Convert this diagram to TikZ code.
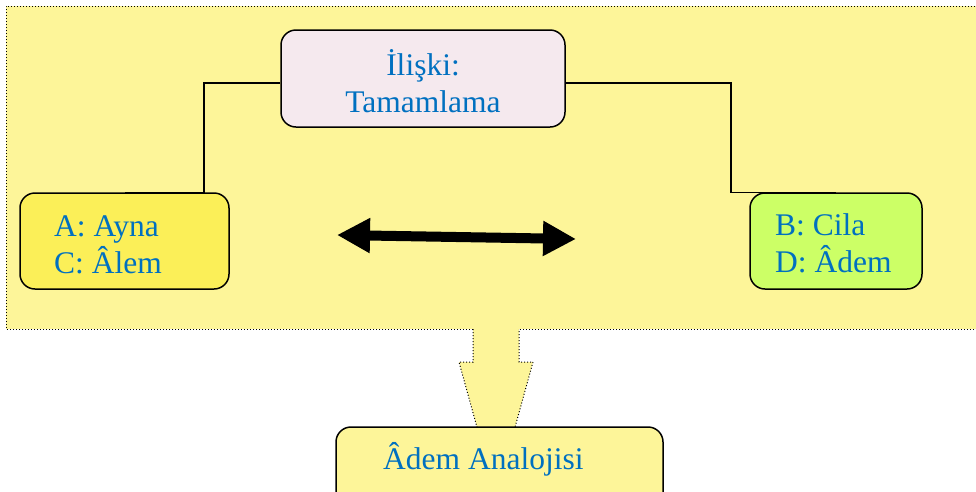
\documentclass[tikz,border=0pt]{standalone}
\usepackage{fontspec}
\setmainfont{Liberation Serif}
\usetikzlibrary{arrows.meta}
\definecolor{panelfill}{RGB}{253,245,153}
\definecolor{relfill}{RGB}{245,233,238}
\definecolor{leftfill}{RGB}{251,239,88}
\definecolor{rightfill}{RGB}{204,255,102}
\definecolor{labelblue}{RGB}{0,112,192}
\tikzset{
  box/.style={draw=black, line width=1.5pt, rounded corners=15pt, inner sep=0pt},
  dots/.style={draw=black, line width=1pt, dash pattern=on 1pt off 2pt},
  txt/.style={text=labelblue, font=\fontsize{31.5}{37}\selectfont, inner sep=0pt},
  link/.style={draw=black, line width=1.3pt},
}
\begin{document}
\begin{tikzpicture}[x=1pt,y=-1pt]
\useasboundingbox (0,0) rectangle (976,491);
\clip (0,0) rectangle (976,491);

% background panel
\fill[panelfill] (6,6) rectangle (990,329);
\draw[dots] (990,6) -- (6,6) -- (6,329) -- (990,329);

% block arrow below the panel
\fill[panelfill] (473,328) -- (473,362) -- (459,362) -- (496,496) -- (533,362) -- (519,362) -- (519,328) -- cycle;
\draw[dots] (473,329) -- (473,362) -- (459,362) -- (496,496) -- (533,362) -- (519,362) -- (519,329);

% boxes
\node[box, fill=relfill, minimum width=284pt, minimum height=97pt] (rel) at (423,78.5) {};
\node[box, fill=leftfill, minimum width=209pt, minimum height=96pt] (lbox) at (124.5,241) {};
\node[box, fill=rightfill, minimum width=172pt, minimum height=96pt] (rbox) at (836,241) {};

% elbow connectors
\draw[link] ([yshift=-4.5pt]rel.west) -- (204,83) |- (lbox.north);
\draw[link] ([yshift=-4.5pt]rel.east) -- (731,83) |- (rbox.north);

% labels
\node[txt, align=center] (reltxt) at (423,81) {İlişki:\\Tamamlama};
\node[txt, anchor=base west] (la) at (54,236) {A: Ayna};
\node[txt, anchor=base west] (lc) at (54,273) {C: Âlem};
\node[txt, anchor=base west] (rb) at (775,235) {B: Cila};
\node[txt, anchor=base west] (rd) at (775,272) {D: Âdem};

% double-headed arrow
\coordinate (al) at (337,235);
\coordinate (ar) at (576,239);
\draw[line width=10pt, {Triangle[length=33pt,width=33pt]}-{Triangle[length=33pt,width=33pt]}] (al) -- (ar);

% result box
\node[box, fill=panelfill, minimum width=327pt, minimum height=90pt] (res) at (499.5,472) {};
\node[txt, anchor=base west] (restxt) at (383,469) {Âdem Analojisi};
\end{tikzpicture}
\end{document}
